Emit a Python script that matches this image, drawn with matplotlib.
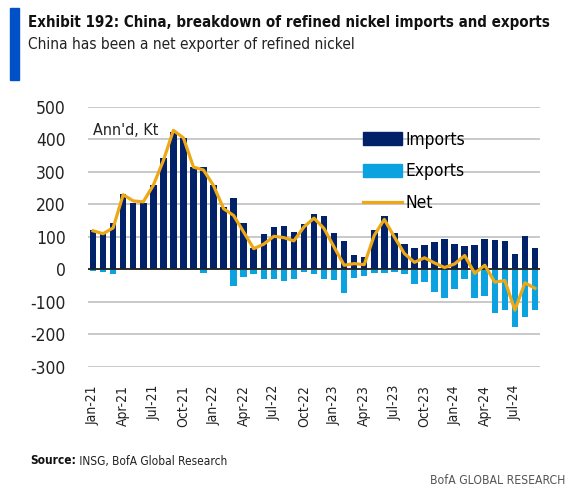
import matplotlib
matplotlib.use("Agg")
import matplotlib.pyplot as plt
import matplotlib.patches as mpatches
import pandas as pd

plt.rcParams['font.family'] = ['DejaVu Sans']
plt.rcParams['font.stretch'] = 'condensed'
plt.rcParams['axes.unicode_minus'] = False

# monthly, Jan-21 .. Sep-24, annualised kt
months = pd.date_range("2021-01-01", periods=45, freq="MS").strftime("%b-%y").tolist()

imports = [121, 112, 142, 232, 205, 205, 260, 342, 424, 405, 316, 316,
           261, 192, 221, 144, 66, 108, 131, 133, 115, 140, 171, 165,
           112, 87, 46, 38, 120, 166, 113, 78, 66, 76, 84, 93,
           77, 73, 75, 95, 92, 88, 49, 103, 67]
exports = [-4, -8, -15, 0, 0, 0, 0, 0, 0, -2, -1, -10,
           0, 0, -50, -22, -13, -30, -29, -34, -28, -7, -15, -30,
           -32, -73, -27, -21, -10, -10, -7, -15, -45, -39, -68, -88,
           -60, -30, -87, -82, -133, -124, -176, -145, -124]
net = [119, 110, 128, 230, 211, 208, 259, 335, 428, 405, 315, 306,
       258, 187, 166, 115, 64, 78, 102, 98, 88, 131, 158, 126,
       69, 13, 18, 15, 105, 154, 100, 49, 22, 36, 20, 6,
       17, 43, -12, 13, -39, -34, -125, -41, -58]

navy = "#012169"
light = "#0BA2DF"
gold = "#EDA915"

fig = plt.figure(figsize=(5.73, 5.01), dpi=100)
ax = fig.add_axes([0.1536, 0.2675, 0.7888, 0.519])

x = range(len(months))
ax.bar(x, imports, width=0.65, color=navy, label="Imports", zorder=2)
ax.bar(x, exports, width=0.65, color=light, label="Exports", zorder=2)
ax.plot(x, net, color=gold, lw=2.3, label="Net", zorder=3, solid_joinstyle="round")

ax.set_xlim(-0.5, len(months) - 0.5)
ax.set_ylim(-300, 500)
ax.set_yticks(range(-300, 501, 100))
ax.yaxis.grid(True, color="#C0C0C0", lw=1.2, zorder=0)
ax.axhline(0, color="#222222", lw=1.3, zorder=2.5)
for s in ax.spines.values():
    s.set_visible(False)
ax.tick_params(axis="both", length=0, labelsize=12.5, colors="#222222")
ax.tick_params(axis="y", pad=16)
ax.set_xticks(list(x)[::3])
ax.set_xticklabels(months[::3], rotation=90, fontsize=10)
ax.tick_params(axis="x", pad=13)

ax.text(0.01, 0.91, "Ann'd, Kt", transform=ax.transAxes, fontsize=11.5,
        color="#222222", va="center")

handles = [mpatches.Patch(color=navy), mpatches.Patch(color=light),
           plt.Line2D([], [], color=gold, lw=2.3)]
ax.legend(handles, ["Imports", "Exports", "Net"], loc="upper left",
          bbox_to_anchor=(0.592, 0.935), frameon=False, fontsize=12.5,
          handlelength=2.3, handleheight=0.75, handletextpad=0.15,
          labelspacing=0.78, borderaxespad=0)

# header
fig.patches.append(mpatches.Rectangle((10 / 573, 1 - 80 / 501), 9 / 573, 72 / 501,
                                      transform=fig.transFigure, color="#0050C8"))
fig.text(28 / 573, 1 - 22 / 501, "Exhibit 192: China, breakdown of refined nickel imports and exports",
         fontsize=10.85, fontweight="bold", va="center", color="#111111")
fig.text(28 / 573, 1 - 45 / 501, "China has been a net exporter of refined nickel",
         fontsize=11.1, va="center", color="#222222")

src = fig.text(30 / 573, 1 - 461 / 501, "Source:", fontsize=8.6, fontweight="bold",
               va="center", color="#111111")
ax.annotate(" INSG, BofA Global Research", xy=(1, 0.5), xycoords=src, fontsize=8.6,
            va="center", ha="left", color="#222222", annotation_clip=False)
fig.text(565 / 573, 1 - 480 / 501, "BofA GLOBAL RESEARCH", fontsize=8.7,
         va="center", ha="right", color="#555555")

fig.savefig("out.png", dpi=100)
